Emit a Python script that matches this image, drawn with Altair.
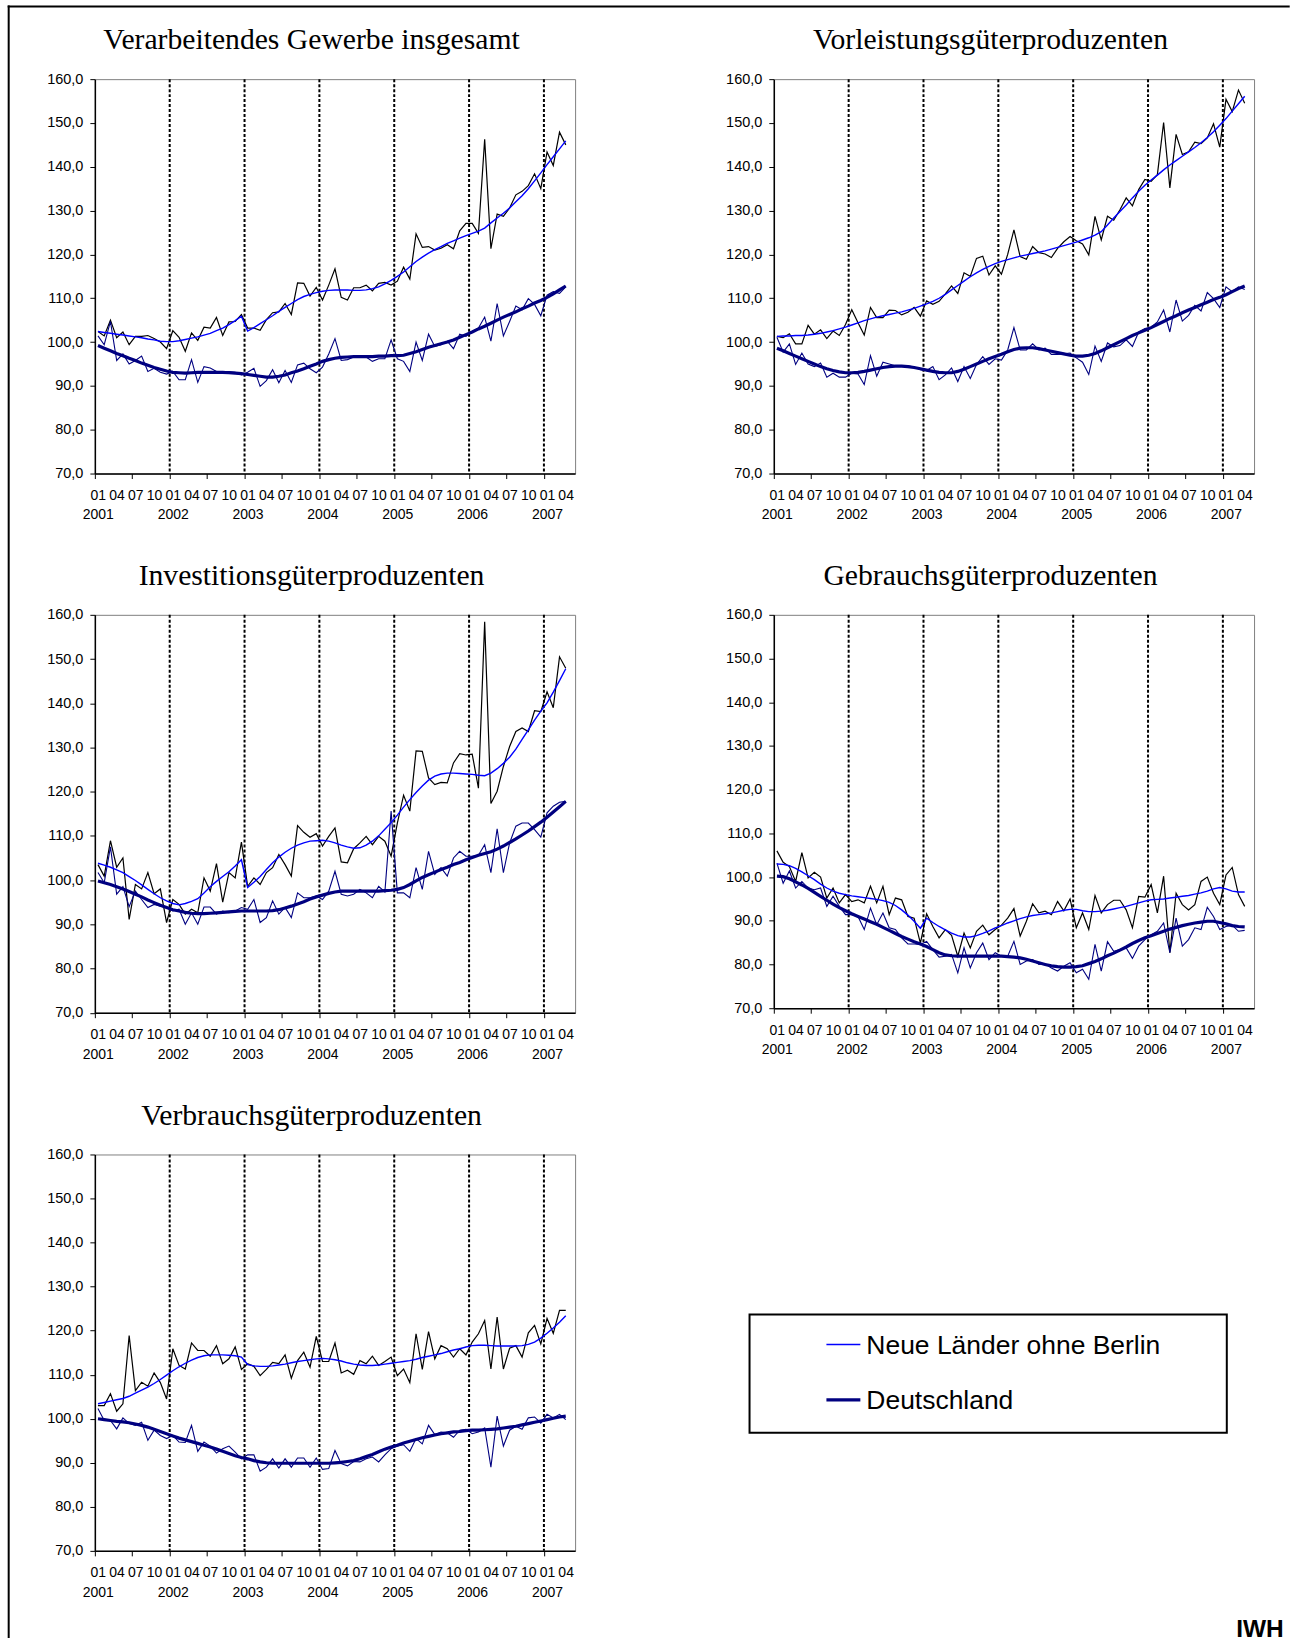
import json
import altair as alt
import pandas as pd

# ---------------------------------------------------------------------------
# Axis labels and categories
# ---------------------------------------------------------------------------
MONTH_LABELS = ["01", "04", "07", "10"]
YEAR_LABELS = ["2001", "2002", "2003", "2004", "2005", "2006", "2007"]
Y_TICKS = [70, 80, 90, 100, 110, 120, 130, 140, 150, 160]
YEAR_STARTS = [12, 24, 36, 48, 60, 72]          # month index of each new January
N_MONTHS = 76                                   # Jan 2001 .. Apr 2007

PANEL_TITLES = [
    "Verarbeitendes Gewerbe insgesamt",
    "Vorleistungsgüterproduzenten",
    "Investitionsgüterproduzenten",
    "Gebrauchsgüterproduzenten",
    "Verbrauchsgüterproduzenten",
]
LEGEND_LABELS = ["Neue Länder ohne Berlin", "Deutschland"]
SOURCE_LABEL = "IWH"

# ---------------------------------------------------------------------------
# Production indices (2000 = 100), monthly, one row per year
# NL = Neue Länder ohne Berlin, DE = Deutschland; RAW = original, TREND = smoothed
# ---------------------------------------------------------------------------
VG_NL_RAW = [
    102.4, 101.4, 105.0, 101.0, 102.3, 99.4, 101.3, 101.3, 101.5, 100.8, 100.0, 98.5,
    102.6, 101.1, 97.9, 102.1, 100.4, 103.4, 103.2, 105.6, 101.5, 104.6, 104.7, 106.3,
    103.2, 103.2, 102.7, 105.1, 106.7, 106.9, 108.8, 106.3, 113.5, 113.4, 110.5, 112.5,
    109.6, 113.0, 116.7, 110.2, 109.6, 112.4, 112.4, 113.0, 111.7, 113.4, 113.6, 113.0,
    113.9, 117.1, 114.4, 124.7, 121.6, 121.8, 121.0, 121.4, 122.2, 121.3, 125.4, 127.1,
    127.1, 124.8, 146.3, 121.3, 129.2, 128.7, 130.6, 133.6, 134.4, 135.7, 138.4, 135.0,
    143.4, 140.3, 147.9, 145.0,
]
VG_NL_TREND = [
    102.4, 102.2, 102.0, 101.8, 101.6, 101.4, 101.2, 101.0, 100.7, 100.5, 100.2, 100.1,
    100.1, 100.3, 100.6, 100.9, 101.2, 101.6, 102.0, 102.6, 103.2, 104.0, 104.9, 105.9,
    102.5, 103.3, 104.2, 105.1, 106.0, 107.0, 107.9, 108.8, 109.7, 110.4, 110.9, 111.3,
    111.6, 111.8, 111.9, 111.9, 111.9, 111.8, 111.8, 111.9, 112.2, 112.6, 113.3, 114.1,
    115.0, 116.0, 117.2, 118.4, 119.4, 120.3, 121.1, 121.8, 122.5, 123.1, 123.7, 124.3,
    124.8, 125.3, 126.0, 127.2, 128.3, 129.4, 130.6, 132.0, 133.4, 135.0, 136.8, 138.6,
    140.5, 142.3, 144.1, 145.9,
]
VG_DE_RAW = [
    101.4, 99.4, 104.7, 95.8, 97.3, 95.0, 95.8, 96.8, 93.3, 94.0, 93.1, 92.7,
    93.3, 91.4, 91.4, 96.0, 90.8, 94.4, 94.1, 93.3, 93.3, 93.3, 93.1, 92.5,
    93.1, 94.0, 89.9, 91.2, 93.7, 90.7, 93.5, 90.8, 94.8, 95.2, 93.9, 93.0,
    94.3, 97.3, 100.8, 95.8, 96.0, 96.6, 96.7, 96.6, 95.6, 96.2, 96.2, 100.5,
    96.2, 95.6, 93.3, 100.0, 95.8, 101.8, 99.0, 99.4, 100.2, 98.5, 101.8, 101.3,
    102.4, 103.2, 105.7, 100.2, 108.8, 101.4, 104.7, 108.2, 107.4, 109.9, 108.6, 106.0,
    110.7, 111.5, 111.1, 112.6,
]
VG_DE_TREND = [
    99.2, 98.6, 98.0, 97.4, 96.9, 96.3, 95.8, 95.2, 94.7, 94.2, 93.8, 93.4,
    93.1, 93.0, 92.9, 93.0, 93.1, 93.1, 93.1, 93.1, 93.1, 93.0, 92.9, 92.8,
    92.6, 92.4, 92.2, 92.0, 92.0, 92.2, 92.5, 93.0, 93.4, 93.9, 94.5, 95.0,
    95.6, 96.0, 96.3, 96.5, 96.6, 96.7, 96.7, 96.7, 96.7, 96.8, 96.8, 96.9,
    96.9, 97.0, 97.4, 97.8, 98.3, 98.8, 99.2, 99.6, 100.0, 100.5, 101.1, 101.7,
    102.3, 103.0, 103.6, 104.3, 105.0, 105.7, 106.3, 106.9, 107.6, 108.2, 108.9, 109.5,
    110.2, 111.0, 111.9, 112.8,
]

VL_NL_RAW = [
    101.3, 101.0, 101.9, 99.6, 99.6, 103.8, 101.8, 102.8, 100.8, 102.5, 101.5, 104.0,
    107.4, 104.4, 101.6, 107.9, 105.6, 105.6, 107.3, 107.2, 106.2, 106.8, 107.9, 105.9,
    109.4, 108.6, 109.3, 111.0, 112.8, 111.1, 115.8, 115.0, 119.1, 119.6, 115.3, 117.4,
    115.5, 120.0, 125.6, 119.5, 118.9, 121.8, 120.4, 120.1, 119.3, 121.4, 122.9, 124.1,
    123.1, 122.4, 119.9, 128.7, 123.3, 128.7, 127.8, 130.2, 132.9, 131.1, 134.8, 137.1,
    136.7, 138.2, 150.1, 135.2, 147.4, 142.8, 143.4, 145.6, 145.3, 146.6, 149.8, 144.5,
    155.4, 152.6, 157.5, 154.5,
]
VL_NL_TREND = [
    101.3, 101.4, 101.4, 101.5, 101.5, 101.6, 101.8, 102.0, 102.3, 102.6, 103.0, 103.4,
    103.9, 104.4, 104.9, 105.3, 105.7, 106.0, 106.3, 106.6, 106.9, 107.3, 107.7, 108.2,
    108.7, 109.3, 110.0, 110.9, 111.9, 112.9, 113.9, 114.9, 115.8, 116.6, 117.3, 117.9,
    118.4, 118.8, 119.2, 119.6, 119.9, 120.2, 120.5, 120.8, 121.2, 121.6, 122.0, 122.4,
    122.8, 123.3, 123.8, 124.4, 125.2, 126.7, 128.3, 129.8, 131.3, 132.9, 134.4, 135.8,
    137.0, 138.1, 139.3, 140.4, 141.4, 142.4, 143.4, 144.4, 145.5, 146.7, 148.0, 149.5,
    151.0, 152.7, 154.4, 156.1,
]
VL_DE_RAW = [
    101.1, 97.7, 99.6, 94.9, 97.5, 95.0, 94.4, 95.2, 92.0, 92.9, 92.0, 92.0,
    92.9, 92.7, 90.3, 96.9, 92.2, 95.4, 95.0, 94.6, 94.6, 94.6, 94.3, 93.7,
    93.5, 94.4, 91.4, 92.5, 94.1, 91.0, 94.4, 91.7, 94.9, 96.7, 94.9, 96.2,
    95.9, 98.2, 103.3, 98.2, 98.2, 99.6, 98.2, 98.6, 97.2, 97.2, 97.3, 97.5,
    96.4, 95.4, 92.6, 99.1, 95.6, 99.8, 98.9, 99.2, 100.5, 99.0, 102.3, 103.1,
    103.4, 104.6, 107.3, 102.3, 109.6, 104.8, 106.1, 108.4, 107.1, 111.3, 109.9, 107.9,
    112.6, 111.5, 112.6, 112.0,
]
VL_DE_TREND = [
    98.6, 98.0, 97.4, 96.8, 96.2, 95.6, 95.0, 94.4, 93.9, 93.5, 93.2, 93.0,
    93.0, 93.1, 93.3, 93.6, 93.9, 94.2, 94.4, 94.5, 94.5, 94.4, 94.2, 93.9,
    93.6, 93.3, 93.1, 93.0, 93.0, 93.3, 93.8, 94.4, 95.0, 95.6, 96.2, 96.7,
    97.2, 97.8, 98.3, 98.6, 98.7, 98.7, 98.5, 98.2, 97.9, 97.6, 97.3, 97.0,
    96.8, 96.8, 97.0, 97.4, 98.0, 98.7, 99.4, 100.1, 100.8, 101.5, 102.1, 102.7,
    103.3, 104.0, 104.7, 105.4, 106.0, 106.7, 107.3, 107.9, 108.5, 109.1, 109.7, 110.2,
    110.8, 111.5, 112.2, 112.8,
]

IG_NL_RAW = [
    103.5, 100.9, 108.9, 102.9, 105.0, 91.1, 99.0, 98.0, 101.7, 96.9, 98.0, 90.4,
    95.6, 94.5, 92.3, 93.4, 92.6, 100.5, 97.5, 103.7, 95.0, 101.7, 100.5, 108.6,
    98.6, 100.5, 99.0, 101.7, 102.8, 105.8, 103.5, 100.9, 112.3, 110.8, 109.7, 110.5,
    107.7, 109.9, 111.8, 104.1, 103.9, 107.1, 108.4, 109.9, 108.0, 109.9, 108.8, 105.4,
    112.9, 119.2, 115.6, 129.2, 129.1, 123.1, 121.6, 122.1, 122.0, 126.5, 128.6, 128.3,
    128.5, 120.8, 158.4, 117.3, 120.1, 125.7, 130.2, 133.6, 134.4, 133.6, 138.3, 138.1,
    142.6, 139.0, 150.5, 147.9,
]
IG_NL_TREND = [
    103.8, 103.4, 102.9, 102.3, 101.7, 100.8, 99.9, 98.9, 97.9, 96.9, 96.0, 95.3,
    94.7, 94.4, 94.7, 95.2, 95.8, 97.1, 98.5, 99.7, 100.8, 101.9, 103.2, 104.6,
    98.3, 99.5, 100.8, 102.4, 103.9, 105.2, 106.3, 107.2, 107.9, 108.4, 108.8, 108.9,
    109.0, 108.8, 108.4, 107.9, 107.5, 107.2, 107.3, 107.9, 108.8, 110.0, 111.5, 113.0,
    114.7, 116.5, 118.2, 119.8, 121.3, 122.6, 123.5, 124.0, 124.2, 124.2, 124.1, 124.0,
    123.9, 123.7, 123.6, 124.2, 125.2, 126.4, 127.8, 129.6, 131.8, 134.0, 136.2, 138.2,
    140.1, 142.5, 145.1, 147.8,
]
IG_DE_RAW = [
    101.7, 99.4, 107.5, 96.8, 98.5, 94.0, 97.5, 95.6, 93.8, 94.5, 94.1, 93.8,
    93.0, 93.4, 90.0, 92.6, 90.0, 93.9, 93.9, 92.3, 93.0, 92.6, 93.0, 93.8,
    93.4, 95.6, 90.4, 91.5, 95.3, 92.3, 93.8, 91.5, 97.1, 96.0, 96.0, 96.4,
    95.6, 97.5, 102.0, 96.8, 96.4, 96.8, 97.9, 97.1, 96.0, 98.6, 97.3, 115.6,
    97.1, 97.1, 96.0, 102.8, 97.9, 106.5, 101.3, 102.8, 100.9, 105.0, 106.5, 105.4,
    105.4, 105.6, 108.0, 101.7, 111.6, 101.7, 108.4, 112.2, 112.9, 112.9, 111.4, 109.7,
    115.2, 116.7, 117.6, 117.8,
]
IG_DE_TREND = [
    99.8, 99.4, 99.0, 98.5, 98.0, 97.4, 96.8, 96.2, 95.5, 94.9, 94.3, 93.8,
    93.3, 93.0, 92.7, 92.5, 92.4, 92.4, 92.5, 92.6, 92.7, 92.8, 92.9, 93.0,
    93.0, 93.0, 93.0, 93.0, 93.1, 93.3, 93.7, 94.1, 94.6, 95.1, 95.7, 96.2,
    96.6, 97.0, 97.3, 97.5, 97.5, 97.5, 97.5, 97.5, 97.5, 97.5, 97.6, 97.7,
    97.9, 98.3, 99.0, 99.8, 100.6, 101.2, 101.8, 102.4, 102.9, 103.5, 104.0, 104.6,
    105.1, 105.6, 106.0, 106.4, 107.0, 107.7, 108.5, 109.3, 110.2, 111.1, 112.1, 113.1,
    114.2, 115.4, 116.6, 117.8,
]

GG_NL_RAW = [
    106.0, 103.4, 102.4, 99.0, 105.6, 99.8, 101.1, 100.0, 95.2, 97.5, 94.1, 96.0,
    94.4, 94.8, 94.1, 97.9, 94.1, 97.9, 91.4, 95.2, 94.8, 91.0, 90.6, 84.9,
    91.6, 88.7, 86.1, 88.0, 86.7, 81.9, 87.2, 83.8, 87.6, 89.0, 86.8, 88.0,
    89.0, 90.6, 92.8, 86.5, 89.9, 93.9, 91.8, 92.2, 91.4, 94.4, 92.3, 95.0,
    88.4, 91.8, 88.0, 95.8, 91.8, 93.7, 94.7, 94.7, 92.5, 88.4, 95.6, 95.4,
    98.3, 91.8, 100.2, 82.7, 96.3, 93.7, 92.5, 93.7, 99.0, 100.0, 96.3, 93.7,
    100.5, 102.2, 96.0, 93.3,
]
GG_NL_TREND = [
    103.0, 102.9, 102.6, 102.0, 101.2, 100.3, 99.4, 98.4, 97.5, 96.8, 96.3, 96.0,
    95.7, 95.5, 95.3, 95.1, 94.9, 94.6, 94.2, 93.5, 92.5, 91.3, 89.9, 88.3,
    90.6, 89.6, 88.7, 87.9, 87.2, 86.6, 86.3, 86.3, 86.6, 87.1, 87.7, 88.4,
    88.9, 89.5, 90.0, 90.5, 90.9, 91.2, 91.4, 91.6, 91.8, 92.1, 92.4, 92.6,
    92.6, 92.3, 92.1, 92.1, 92.2, 92.4, 92.7, 93.0, 93.3, 93.7, 94.1, 94.5,
    94.8, 94.9, 95.0, 95.2, 95.4, 95.6, 95.8, 96.1, 96.4, 96.8, 97.3, 97.6,
    97.3, 96.8, 96.6, 96.6,
]
GG_DE_RAW = [
    103.2, 98.6, 101.4, 97.5, 99.0, 97.5, 97.1, 97.5, 93.3, 95.6, 93.3, 91.4,
    91.4, 91.0, 88.0, 92.9, 89.1, 91.8, 88.4, 88.0, 86.1, 84.7, 84.7, 84.6,
    85.3, 83.4, 81.7, 81.9, 82.3, 78.1, 83.8, 79.2, 82.7, 84.9, 81.1, 82.7,
    81.9, 81.9, 85.3, 80.0, 80.8, 81.1, 80.0, 80.2, 79.2, 78.5, 79.6, 80.4,
    78.1, 78.9, 76.6, 84.6, 78.5, 85.2, 83.0, 83.4, 83.8, 81.4, 84.2, 85.7,
    86.8, 87.6, 89.5, 82.7, 90.6, 84.2, 85.7, 88.4, 88.0, 93.1, 91.0, 88.0,
    88.7, 89.0, 87.6, 87.8,
]
GG_DE_TREND = [
    100.2, 100.1, 99.6, 98.9, 98.2, 97.4, 96.5, 95.6, 94.7, 93.8, 93.0, 92.3,
    91.6, 91.0, 90.4, 89.8, 89.2, 88.5, 87.8, 87.1, 86.4, 85.8, 85.2, 84.7,
    84.1, 83.4, 82.7, 82.2, 82.0, 81.9, 81.9, 81.9, 81.9, 81.9, 81.9, 81.9,
    81.9, 81.8, 81.7, 81.5, 81.2, 80.8, 80.4, 80.0, 79.7, 79.5, 79.4, 79.4,
    79.5, 79.7, 80.2, 80.7, 81.3, 82.0, 82.6, 83.3, 84.0, 84.8, 85.5, 86.1,
    86.6, 87.1, 87.6, 88.1, 88.5, 88.9, 89.2, 89.5, 89.7, 89.9, 89.9, 89.6,
    89.3, 88.9, 88.7, 88.6,
]

VB_NL_RAW = [
    103.0, 103.0, 105.7, 101.7, 103.4, 118.9, 106.4, 108.3, 107.4, 110.4, 108.2, 104.5,
    115.9, 112.1, 111.3, 117.2, 115.5, 115.5, 114.2, 116.6, 112.5, 113.6, 116.3, 111.2,
    112.5, 111.9, 109.8, 111.2, 112.8, 112.5, 114.5, 109.2, 113.2, 115.1, 111.7, 118.7,
    113.0, 113.0, 117.2, 110.4, 111.0, 110.1, 113.2, 112.5, 114.2, 112.1, 113.0, 114.0,
    109.8, 111.3, 108.2, 119.3, 111.2, 119.8, 113.6, 116.6, 115.9, 114.0, 115.9, 114.5,
    117.4, 119.3, 122.3, 111.3, 123.1, 111.3, 116.0, 116.6, 114.0, 119.5, 121.2, 117.0,
    122.8, 119.4, 124.6, 124.6,
]
VB_NL_TREND = [
    103.4, 103.7, 104.0, 104.3, 104.6, 105.1, 105.8, 106.5, 107.2, 108.0, 108.9, 109.9,
    110.9, 111.8, 112.6, 113.3, 113.9, 114.3, 114.5, 114.5, 114.5, 114.4, 114.3, 114.0,
    112.3, 112.0, 111.9, 111.9, 112.0, 112.2, 112.4, 112.7, 113.0, 113.2, 113.4, 113.6,
    113.7, 113.6, 113.4, 113.1, 112.7, 112.4, 112.2, 112.1, 112.1, 112.2, 112.4, 112.6,
    112.8, 113.0, 113.2, 113.5, 113.9, 114.2, 114.5, 114.8, 115.2, 115.6, 115.9, 116.3,
    116.6, 116.7, 116.7, 116.6, 116.5, 116.5, 116.5, 116.5, 116.6, 116.9, 117.4, 118.3,
    119.4, 120.6, 121.9, 123.4,
]
VB_DE_RAW = [
    102.3, 99.6, 99.6, 97.7, 100.2, 98.9, 98.5, 99.2, 95.1, 97.4, 96.2, 95.5,
    96.2, 94.7, 94.6, 98.5, 92.6, 94.7, 93.8, 92.2, 93.2, 93.8, 92.4, 90.9,
    91.8, 91.8, 88.1, 89.0, 90.9, 88.8, 90.9, 89.0, 91.1, 91.1, 89.0, 91.1,
    88.5, 88.7, 92.8, 89.8, 89.3, 90.3, 90.2, 90.9, 91.3, 90.2, 91.8, 93.2,
    93.8, 94.1, 92.6, 95.5, 94.3, 98.5, 96.4, 97.0, 96.8, 95.8, 97.4, 97.6,
    96.6, 97.0, 97.9, 89.0, 100.6, 93.8, 97.4, 98.3, 97.6, 100.2, 100.4, 99.0,
    101.0, 100.2, 101.0, 99.8,
]
VB_DE_TREND = [
    100.0, 99.8, 99.6, 99.4, 99.3, 99.1, 98.8, 98.5, 98.1, 97.6, 97.1, 96.6,
    96.1, 95.6, 95.2, 94.8, 94.4, 94.0, 93.6, 93.1, 92.6, 92.1, 91.6, 91.2,
    90.9, 90.5, 90.2, 90.0, 89.9, 89.9, 89.9, 89.9, 89.9, 89.9, 89.9, 89.9,
    89.9, 89.9, 90.0, 90.1, 90.3, 90.5, 90.9, 91.4, 91.9, 92.5, 93.1, 93.6,
    94.0, 94.5, 94.9, 95.3, 95.7, 96.0, 96.3, 96.6, 96.8, 97.0, 97.1, 97.3,
    97.4, 97.4, 97.5, 97.6, 97.7, 97.9, 98.1, 98.3, 98.6, 98.9, 99.2, 99.5,
    99.8, 100.1, 100.4, 100.6,
]

PANEL_SERIES = [
    (VG_NL_RAW, VG_NL_TREND, VG_DE_RAW, VG_DE_TREND),
    (VL_NL_RAW, VL_NL_TREND, VL_DE_RAW, VL_DE_TREND),
    (IG_NL_RAW, IG_NL_TREND, IG_DE_RAW, IG_DE_TREND),
    (GG_NL_RAW, GG_NL_TREND, GG_DE_RAW, GG_DE_TREND),
    (VB_NL_RAW, VB_NL_TREND, VB_DE_RAW, VB_DE_TREND),
]
for group in PANEL_SERIES:
    for s in group:
        assert len(s) == N_MONTHS, len(s)

# ---------------------------------------------------------------------------
# Styling and layout
# ---------------------------------------------------------------------------
SANS = "Liberation Sans"
SERIF = "Liberation Serif"
BLACK = "#000000"
BLUE = "#0000ff"
NAVY = "#000080"

PLOT_W = 481
PANEL_H = [395, 395, 398.5, 394, 397]
COL_GAP = 199
ROW_GAP = 141.5
ORIGIN = (93.3, 78.2)          # page position of the first plot area

# draw order: raw lines first, smoothed lines on top
SERIES_STYLE = [
    ("nl_raw", dict(color=BLACK, strokeWidth=1.2)),
    ("de_raw", dict(color=NAVY, strokeWidth=1.1)),
    ("nl_trend", dict(color=BLUE, strokeWidth=1.4)),
    ("de_trend", dict(color=NAVY, strokeWidth=3.2)),
]

X_SCALE = alt.Scale(domain=[0, 77], nice=False, zero=False)
Y_SCALE = alt.Scale(domain=[70, 160], nice=False, zero=False)

months_js = json.dumps(MONTH_LABELS)
years_js = json.dumps(YEAR_LABELS)
x_label_expr = (
    f"datum.value % 12 === 0 ? [{months_js}[0], {years_js}[floor(datum.value / 12)]]"
    f" : {months_js}[floor((datum.value % 12) / 3)]"
)

X_AXIS = alt.Axis(
    values=list(range(0, N_MONTHS, 3)),
    labelExpr=x_label_expr,
    labelOffset=3,
    labelPadding=10,
    labelLineHeight=19.5,
    labelFont=SANS,
    labelFontSize=14,
    labelColor=BLACK,
    labelOverlap=False,
    labelFlush=False,
    labelBound=False,
    tickSize=5,
    tickColor=BLACK,
    tickOpacity={"condition": {"test": "datum.value % 6 === 0", "value": 1}, "value": 0},
    domainColor=BLACK,
    domainWidth=1.5,
    grid=False,
    title=None,
)
Y_AXIS = alt.Axis(
    values=Y_TICKS,
    labelExpr="replace(format(datum.value, '.1f'), '.', ',')",
    labelFont=SANS,
    labelFontSize=14.5,
    labelColor=BLACK,
    labelPadding=7,
    tickSize=5,
    tickColor=BLACK,
    domainColor=BLACK,
    domainWidth=1.5,
    grid=False,
    title=None,
)


def panel(title, series, height):
    nl_raw, nl_trend, de_raw, de_trend = series
    cols = {"nl_raw": nl_raw, "nl_trend": nl_trend, "de_raw": de_raw, "de_trend": de_trend}
    rows = []
    for name, values in cols.items():
        for m, v in enumerate(values):
            rows.append({"t": m + 0.5, "value": v, "series": name})
    df = pd.DataFrame(rows)

    x = alt.X("t:Q", scale=X_SCALE, axis=X_AXIS)
    y = alt.Y("value:Q", scale=Y_SCALE, axis=Y_AXIS)

    year_rules = (
        alt.Chart(pd.DataFrame({"t": YEAR_STARTS}))
        .mark_rule(color=BLACK, strokeWidth=2, strokeDash=[3, 2])
        .encode(x=x)
    )
    lines = [
        alt.Chart(df)
        .transform_filter(alt.datum.series == key)
        .mark_line(strokeJoin="miter", **style)
        .encode(x=x, y=y)
        for key, style in SERIES_STYLE
    ]
    return alt.layer(year_rules, *lines).properties(
        width=PLOT_W,
        height=height,
        title=alt.TitleParams(
            text=title,
            font=SERIF,
            fontSize=29.7,
            fontWeight="normal",
            color=BLACK,
            anchor="middle",
            frame="group",
            dx=-23.5,
            dy=30,
            baseline="alphabetic",
            offset=22,
        ),
    )


panels = [panel(t, s, h) for t, s, h in zip(PANEL_TITLES, PANEL_SERIES, PANEL_H)]

# ---------------------------------------------------------------------------
# Legend cell (bottom right), page frame and source note
# ---------------------------------------------------------------------------
leg_x0 = ORIGIN[0] + PLOT_W + COL_GAP
leg_y0 = ORIGIN[1] + max(PANEL_H[0], PANEL_H[1]) + ROW_GAP + max(PANEL_H[2], PANEL_H[3]) + ROW_GAP


def px(a):
    return a - leg_x0


def py(a):
    return a - leg_y0


one = alt.Chart(pd.DataFrame({"k": [0]}))

legend_box = one.mark_rect(fill="white", stroke=BLACK, strokeWidth=2).encode(
    x=alt.value(px(749)), x2=alt.value(px(1227)),
    y=alt.value(py(1315)), y2=alt.value(py(1433.4)),
)
legend_rows = []
for label, color, width, ly in [
    (LEGEND_LABELS[0], BLUE, 1.3, 1345.0),
    (LEGEND_LABELS[1], NAVY, 3.2, 1400.5),
]:
    legend_rows.append(
        one.mark_rule(color=color, strokeWidth=width).encode(
            x=alt.value(px(826)), x2=alt.value(px(860)), y=alt.value(py(ly))
        )
    )
    legend_rows.append(
        one.mark_text(
            text=label, align="left", baseline="alphabetic",
            font=SANS, fontSize=26.5, color=BLACK,
        ).encode(x=alt.value(px(866)), y=alt.value(py(ly + 9.3)))
    )

source_note = one.mark_text(
    text=SOURCE_LABEL, align="right", baseline="alphabetic",
    font=SANS, fontSize=24.5, fontWeight="bold", color=BLACK,
).encode(x=alt.value(px(1284)), y=alt.value(py(1637.5)))

frame_left = one.mark_rule(color=BLACK, strokeWidth=2).encode(
    x=alt.value(px(7)), y=alt.value(py(4)), y2=alt.value(py(1639))
)
frame_top = one.mark_rule(color=BLACK, strokeWidth=2).encode(
    x=alt.value(px(6)), x2=alt.value(px(1290)), y=alt.value(py(5))
)

legend_cell = alt.layer(
    legend_box, *legend_rows, source_note, frame_left, frame_top
).properties(
    width=PLOT_W, height=300, view=alt.ViewBackground(stroke="transparent")
)

chart = (
    alt.concat(
        *panels,
        legend_cell,
        columns=2,
        spacing=alt.RowColnumber(row=ROW_GAP, column=COL_GAP),
        bounds="flush",
    )
    .properties(padding={"left": 6, "top": 2, "right": 0, "bottom": 0})
    .configure(background="white")
    .configure_view(stroke="#7f7f7f", strokeWidth=1)
)

chart.save("out.html", embed_options={"renderer": "svg", "actions": False})
